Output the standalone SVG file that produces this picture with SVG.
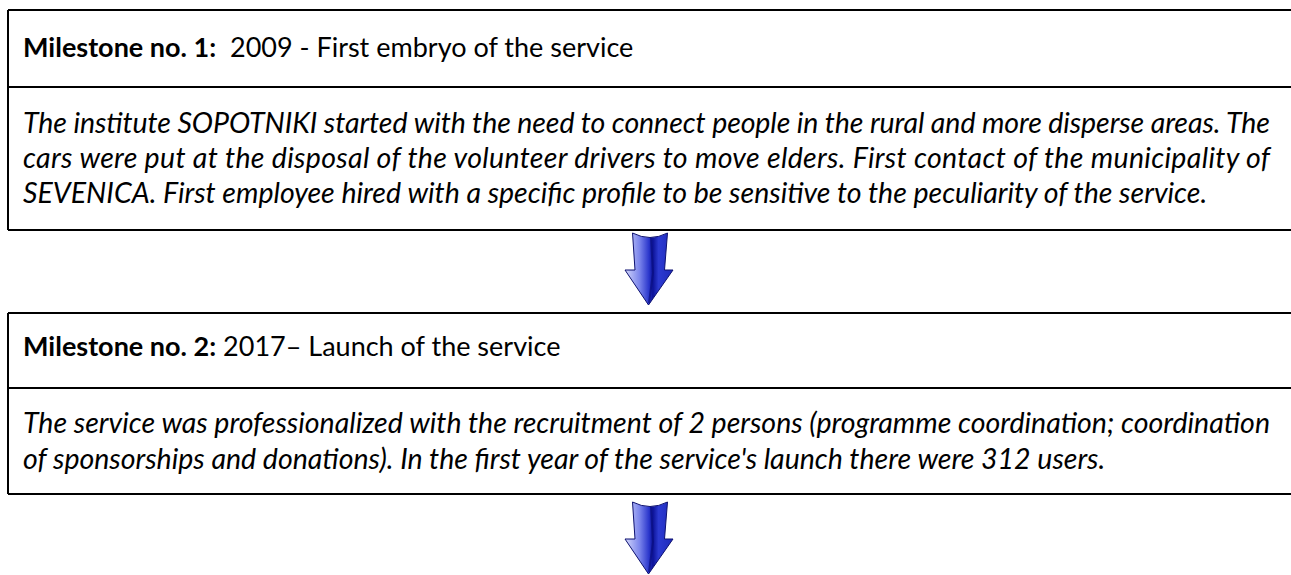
<svg xmlns="http://www.w3.org/2000/svg" xmlns:xlink="http://www.w3.org/1999/xlink" width="1291" height="575" viewBox="0 0 1291 575">
  <style>
    .rule { stroke: #000; stroke-width: 2; fill: none; }
    .title { font-family: Lato, "Open Sans", "Liberation Sans", sans-serif; font-size: 27px; fill: #000; }
    .title .key { font-weight: bold; }
    .body { font-family: Lato, "Open Sans", "Liberation Sans", sans-serif; font-size: 28.5px; font-style: italic; fill: #000; }
  </style>
  <defs>
    <linearGradient id="arrowFill" x1="0" y1="0" x2="1" y2="0">
      <stop offset="0" stop-color="#d4d8fb"/>
      <stop offset="0.3" stop-color="#7c86ec"/>
      <stop offset="0.5" stop-color="#2a36cc"/>
      <stop offset="0.58" stop-color="#0c1296"/>
      <stop offset="0.7" stop-color="#2c3ad2"/>
      <stop offset="1" stop-color="#1e2ab8"/>
    </linearGradient>
    <!-- block arrow with notched tail, used for both connectors -->
    <g id="downArrow">
      <path d="M -17.5,0 Q 0,9 17.5,0 L 14.5,37 L 23,37 L -1.5,72 L -25,37 L -15,37 Z" fill="url(#arrowFill)" stroke="#0d1170" stroke-width="1"/>
      <path d="M 1,5 L 3,40 L -1,70" stroke="#0a0e80" stroke-width="2" fill="none" opacity="0.7"/>
    </g>
  </defs>

  <!-- Milestone 1 -->
  <g id="milestone1">
    <path class="rule" d="M 8,10 H 1291 M 8,87 H 1291 M 8,230 H 1291 M 8,10 V 230"/>
    <text class="title" x="23" y="57"><tspan class="key">Milestone no. 1:</tspan>&#160; 2009 - First embryo of the service</text>
    <text class="body" x="23" y="133" textLength="1247" lengthAdjust="spacing">The institute SOPOTNIKI started with the need to connect people in the rural and more disperse areas. The</text>
    <text class="body" x="23" y="168" textLength="1247" lengthAdjust="spacing">cars were put at the disposal of the volunteer drivers to move elders. First contact of the municipality of</text>
    <text class="body" x="23" y="203">SEVENICA. First employee hired with a specific profile to be sensitive to the peculiarity of the service.</text>
  </g>

  <!-- Milestone 2 -->
  <g id="milestone2">
    <path class="rule" d="M 8,313 H 1291 M 8,388 H 1291 M 8,494 H 1291 M 8,313 V 494"/>
    <text class="title" x="23" y="356"><tspan class="key">Milestone no. 2:</tspan> 2017– Launch of the service</text>
    <text class="body" x="23" y="433" textLength="1247" lengthAdjust="spacing">The service was professionalized with the recruitment of 2 persons (programme coordination; coordination</text>
    <text class="body" x="23" y="469">of sponsorships and donations). In the first year of the service's launch there were 312 users.</text>
  </g>

  <!-- Connectors -->
  <g id="connectors">
    <use xlink:href="#downArrow" transform="translate(650,233)"/>
    <use xlink:href="#downArrow" transform="translate(650,502)"/>
  </g>
</svg>
